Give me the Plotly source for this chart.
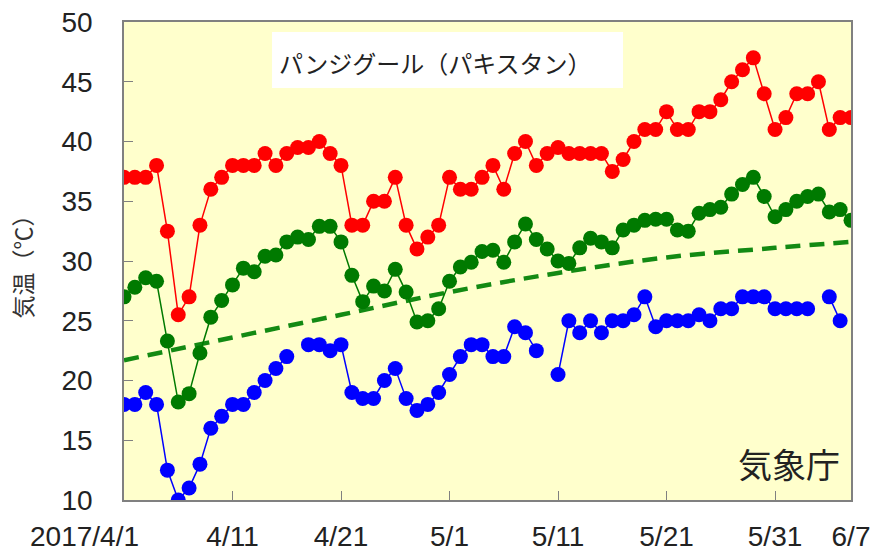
import pandas as pd
import plotly.graph_objects as go

dates = pd.date_range("2017-04-01", "2017-06-07", freq="D")

t_max = [37, 37, 37, 38, 32.5, 25.5, 27, 33, 36, 37, 38, 38, 38, 39, 38, 39, 39.5, 39.5, 40, 39,
         38, 33, 33, 35, 35, 37, 33, 31, 32, 33, 37, 36, 36, 37, 38, 36, 39, 40, 38, 39,
         39.5, 39, 39, 39, 39, 37.5, 38.5, 40, 41, 41, 42.5, 41, 41, 42.5, 42.5, 43.5, 45, 46, 47, 44,
         41, 42, 44, 44, 45, 41, 42, 42]

t_mean = [27.0, 27.8, 28.6, 28.3, 23.3, 18.2, 18.9, 22.3, 25.3, 26.7, 28.0, 29.4, 29.1, 30.4, 30.5, 31.6, 32.0, 31.8, 32.9, 32.9,
          31.6, 28.8, 26.6, 27.9, 27.5, 29.3, 27.4, 24.9, 25.0, 26.0, 28.3, 29.5, 29.9, 30.8, 30.9, 29.9, 31.6, 33.1, 31.8, 31.0,
          30.0, 29.8, 31.1, 31.9, 31.6, 31.1, 32.6, 33.0, 33.4, 33.5, 33.5, 32.6, 32.5, 34.0, 34.3, 34.5, 35.6, 36.4, 37.0, 35.4,
          33.7, 34.3, 35.0, 35.4, 35.6, 34.1, 34.3, 33.4]

t_min = [18, 18, 19, 18, 12.5, 10, 11, 13, 16, 17, 18, 18, 19, 20, 21, 22, None, 23, 23, 22.5,
         23, 19, 18.5, 18.5, 20, 21, 18.5, 17.5, 18, 19, 20.5, 22, 23, 23, 22, 22, 24.5, 24, 22.5, None,
         20.5, 25, 24, 25, 24, 25, 25, 25.5, 27, 24.5, 25, 25, 25, 25.5, 25, 26, 26, 27, 27, 27,
         26, 26, 26, 26, None, 27, 25, None]

normal_dates = ["2017-04-01", "2017-04-11", "2017-04-21", "2017-05-01", "2017-05-11",
                "2017-05-21", "2017-05-31", "2017-06-07"]
normal_mean = [21.7, 23.6, 25.5, 27.4, 29.0, 30.3, 31.1, 31.6]

tick_dates = ["2017-04-11", "2017-04-21", "2017-05-01", "2017-05-11",
              "2017-05-21", "2017-05-31", "2017-06-07"]
tick_text = ["4/11", "4/21", "5/1", "5/11", "5/21", "5/31", "6/7"]
first_label = "2017/4/1"

y_ticks = [10, 15, 20, 25, 30, 35, 40, 45, 50]

fig = go.Figure()

fig.add_trace(go.Scatter(x=normal_dates, y=normal_mean, mode="lines",
                         line=dict(color="#138a13", width=4.5, dash="15px,9px", shape="spline"),
                         hoverinfo="skip"))

for vals, col in [(t_max, "#ff0000"), (t_mean, "#007a00"), (t_min, "#0000ff")]:
    fig.add_trace(go.Scatter(x=dates, y=vals, mode="lines+markers",
                             line=dict(color=col, width=1.5),
                             marker=dict(color=col, size=15, symbol="circle"),
                             connectgaps=False))

fig.update_layout(
    width=877, height=553,
    margin=dict(l=124, r=26, t=22, b=53),
    paper_bgcolor="white",
    plot_bgcolor="#ffffcc",
    showlegend=False,
    font=dict(family="Liberation Sans, Arial, sans-serif", color="#222222"),
)

fig.update_xaxes(
    type="date", automargin=False,
    range=["2017-04-01", "2017-06-07"],
    tickvals=tick_dates, ticktext=tick_text,
    ticks="inside", ticklen=9, tickcolor="#808080", tickwidth=1,
    showline=True, linecolor="#808080", linewidth=1.5, mirror=True,
    showgrid=False, zeroline=False,
    tickfont=dict(size=28, color="#222222"),
    ticklabelstandoff=11,
)

fig.update_yaxes(
    range=[10, 50], automargin=False,
    tickvals=y_ticks,
    ticks="inside", ticklen=9, tickcolor="#808080", tickwidth=1,
    showline=True, linecolor="#808080", linewidth=1.5, mirror=True,
    showgrid=False, zeroline=False,
    tickfont=dict(size=28, color="#222222"),
    ticklabelstandoff=24,
    title=dict(text="気温（℃）", font=dict(family="Noto Sans CJK JP", size=23, color="#333333"), standoff=22),
)

fig.add_annotation(x="2017-04-01", y=0, xref="x", yref="paper", yanchor="top", xanchor="right",
                   xshift=17, yshift=-19, text=first_label, showarrow=False,
                   font=dict(size=28, color="#222222"))

fig.add_shape(type="rect", xref="paper", yref="paper", x0=0.2036, x1=0.6864, y0=0.862, y1=0.979,
              fillcolor="white", line=dict(width=0), layer="below")

fig.add_annotation(x=0.2105, y=0.916, xref="paper", yref="paper", xanchor="left", yanchor="middle",
                   text="パンジグール（パキスタン）", showarrow=False,
                   font=dict(family="Noto Sans CJK JP", size=24, color="#222222"))

fig.add_annotation(x=0.988, y=0.0774, xref="paper", yref="paper", xanchor="right", yanchor="middle",
                   text="気象庁", showarrow=False,
                   font=dict(family="Noto Sans CJK JP", size=34, color="#222222"))

fig.write_html("out.html", config={"displayModeBar": False},
               post_script="document.body.style.margin='0';")
